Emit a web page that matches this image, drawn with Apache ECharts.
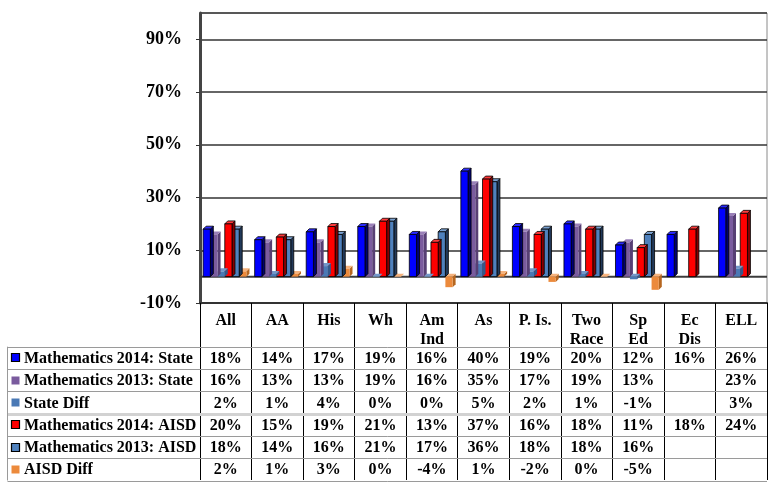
<!DOCTYPE html>
<html>
<head>
<meta charset="utf-8">
<script src="https://cdn.jsdelivr.net/npm/echarts@6/dist/echarts.min.js"></script>
<style>
  html, body { margin: 0; padding: 0; background: #fff; }
  #chart { width: 769px; height: 491px; }
</style>
</head>
<body>
<div id="chart"></div>
<script>
// Student groups shown along the category axis
const categories = ['All', 'AA', 'His', 'Wh', 'Am\nInd', 'As', 'P. Is.', 'Two\nRace', 'Sp\nEd', 'Ec\nDis', 'ELL'];

// Series names (legend column of the data table)
const seriesNames = [
  'Mathematics 2014: State',
  'Mathematics 2013: State',
  'State Diff',
  'Mathematics 2014: AISD',
  'Mathematics 2013: AISD',
  'AISD Diff'
];

// Percent values per group (null = no data reported)
const math2014State = [18, 14, 17, 19, 16, 40, 19, 20, 12, 16, 26];
const math2013State = [16, 13, 13, 19, 16, 35, 17, 19, 13, null, 23];
const stateDiff     = [2, 1, 4, 0, 0, 5, 2, 1, -1, null, 3];
const math2014AISD  = [20, 15, 19, 21, 13, 37, 16, 18, 11, 18, 24];
const math2013AISD  = [18, 14, 16, 21, 17, 36, 18, 18, 16, null, null];
const aisdDiff      = [2, 1, 3, 0, -4, 1, -2, 0, -5, null, null];

// Value axis ticks
const yMin = -10, yMax = 100, yStep = 20;

const seriesValues = [math2014State, math2013State, stateDiff, math2014AISD, math2013AISD, aisdDiff];

const FONT = "'Liberation Serif', 'Times New Roman', serif";
const GRID = { left: 200, right: 2, top: 13, bottom: 188 };
const DEPTH = 3;
const FIRST_BAR_SERIES = 1; // series 0 is the zero-level floor

// Face colours for the pseudo-3D columns
const barStyles = [
  { front: '#0000ff', top: '#2a2aff', side: '#000070', stroke: '#000' },
  { front: '#7a5b9e', top: '#9a80b8', side: '#573f74', stroke: null },
  { front: '#4a79b5', top: '#7397c9', side: '#33598a', stroke: null },
  { front: '#ff0000', top: '#ff3a3a', side: '#850000', stroke: '#000' },
  { front: '#4f81bd', top: '#789fcf', side: '#22395a', stroke: '#000' },
  { front: '#ec8a3c', top: '#f5b27c', side: '#b6661f', stroke: null }
];

function renderBar(params, api) {
  const s = params.seriesIndex - FIRST_BAR_SERIES;
  const idx = api.value(0);
  const v = api.value(1);
  const band = api.size([1, 0])[0];
  const groupW = band * 0.84;
  const w = groupW / 6;
  const base = api.coord([idx, 0]);
  const x = base[0] - groupW / 2 - 1 + s * w;
  const yv = api.coord([idx, v])[1];
  const top = Math.min(base[1], yv);
  const bot = Math.max(base[1], yv);
  const st = barStyles[s];
  const lw = st.stroke ? 0.8 : 0;
  const stroke = st.stroke || null;
  return {
    type: 'group',
    children: [
      {
        type: 'polygon',
        shape: { points: [[x + w, top], [x + w + DEPTH, top - DEPTH], [x + w + DEPTH, bot - DEPTH], [x + w, bot]] },
        style: { fill: st.side, stroke: stroke, lineWidth: lw }
      },
      {
        type: 'polygon',
        shape: { points: [[x, top], [x + DEPTH, top - DEPTH], [x + w + DEPTH, top - DEPTH], [x + w, top]] },
        style: { fill: st.top, stroke: stroke, lineWidth: lw }
      },
      {
        type: 'rect',
        shape: { x: x, y: top, width: w, height: bot - top },
        style: { fill: st.front, stroke: stroke, lineWidth: lw }
      }
    ]
  };
}

// Floor line drawn at the zero level
function renderFloor(params, api) {
  const cs = params.coordSys;
  const y = api.coord([0, 0])[1];
  return {
    type: 'line',
    shape: { x1: cs.x, y1: y, x2: cs.x + cs.width, y2: y },
    style: { stroke: '#3c3c3c', lineWidth: 2 }
  };
}

const series = [{
  type: 'custom',
  name: 'floor',
  renderItem: renderFloor,
  data: [[0, 0]],
  encode: { x: 0, y: 1 },
  z: 1,
  silent: true
}];

seriesValues.forEach((vals, s) => {
  series.push({
    type: 'custom',
    name: seriesNames[s],
    renderItem: renderBar,
    encode: { x: 0, y: 1 },
    data: vals.map((v, i) => [i, v]).filter(d => d[1] !== null),
    z: 10 - s,
    silent: true
  });
});

const chart = echarts.init(document.getElementById('chart'), null, { renderer: 'canvas' });

chart.setOption({
  animation: false,
  backgroundColor: '#fff',
  grid: {
    left: GRID.left, right: GRID.right, top: GRID.top, bottom: GRID.bottom,
    show: true, borderColor: '#8a8a8a', borderWidth: 1, backgroundColor: 'transparent'
  },
  xAxis: {
    type: 'category',
    data: categories,
    boundaryGap: true,
    axisLine: { onZero: false, lineStyle: { color: '#333', width: 2 } },
    axisTick: { show: true, interval: 0, length: 177, lineStyle: { color: '#000', width: 1 } },
    axisLabel: {
      interval: 0, margin: 9, color: '#000',
      fontFamily: FONT, fontWeight: 'bold', fontSize: 16, lineHeight: 18.5
    },
    splitLine: { show: false }
  },
  yAxis: {
    type: 'value',
    min: yMin, max: yMax, interval: yStep,
    axisLine: { show: true, lineStyle: { color: '#444', width: 3 } },
    axisTick: { show: true, length: 4, lineStyle: { color: '#333' } },
    axisLabel: {
      formatter: v => v + '%',
      showMaxLabel: false, showMinLabel: true,
      margin: 18, color: '#000',
      fontFamily: FONT, fontWeight: 'bold', fontSize: 18
    },
    splitLine: { show: true, lineStyle: { color: '#333', width: 1.5 } }
  },
  series: series
});

// Data table under the plot: legend column plus one value per group
const plotRight = 769 - GRID.right;
const tableLeft = 7.5;
const tableTop = 346.7;
const rowH = 22.3;
const cellFont = 'bold 16px ' + FONT;

const graphics = [];
const colX = categories.map((_, i) => chart.convertToPixel({ xAxisIndex: 0 }, i));

for (let r = 0; r <= seriesNames.length; r++) {
  const y = Math.round(tableTop + r * rowH) + 0.5;
  const thick = r === 3;
  graphics.push({
    type: 'line', silent: true, z: 50,
    shape: { x1: tableLeft, y1: y, x2: plotRight, y2: y },
    style: { stroke: thick ? '#d2d2d2' : '#9a9a9a', lineWidth: thick ? 3 : 1 }
  });
}
graphics.push({
  type: 'line', silent: true, z: 50,
  shape: { x1: tableLeft, y1: tableTop, x2: tableLeft, y2: tableTop + seriesNames.length * rowH },
  style: { stroke: '#9a9a9a', lineWidth: 1 }
});

seriesNames.forEach((name, r) => {
  const cy = tableTop + r * rowH + rowH / 2;
  const st = barStyles[r];
  graphics.push({
    type: 'rect', silent: true, z: 51,
    shape: { x: 11.5, y: Math.round(cy - 4.5) + 0.5, width: 8, height: 8 },
    style: { fill: st.front, stroke: st.stroke || st.front, lineWidth: st.stroke ? 1.2 : 0 }
  });
  graphics.push({
    type: 'text', silent: true, z: 51,
    x: 24, y: cy + 1,
    style: { text: name, font: cellFont, fill: '#000', textAlign: 'left', textVerticalAlign: 'middle', align: 'left', verticalAlign: 'middle' }
  });
  seriesValues[r].forEach((v, i) => {
    if (v === null) return;
    graphics.push({
      type: 'text', silent: true, z: 51,
      x: colX[i], y: cy + 1,
      style: { text: v + '%', font: cellFont, fill: '#000', textAlign: 'center', textVerticalAlign: 'middle', align: 'center', verticalAlign: 'middle' }
    });
  });
});

chart.setOption({ graphic: graphics });
</script>
</body>
</html>
